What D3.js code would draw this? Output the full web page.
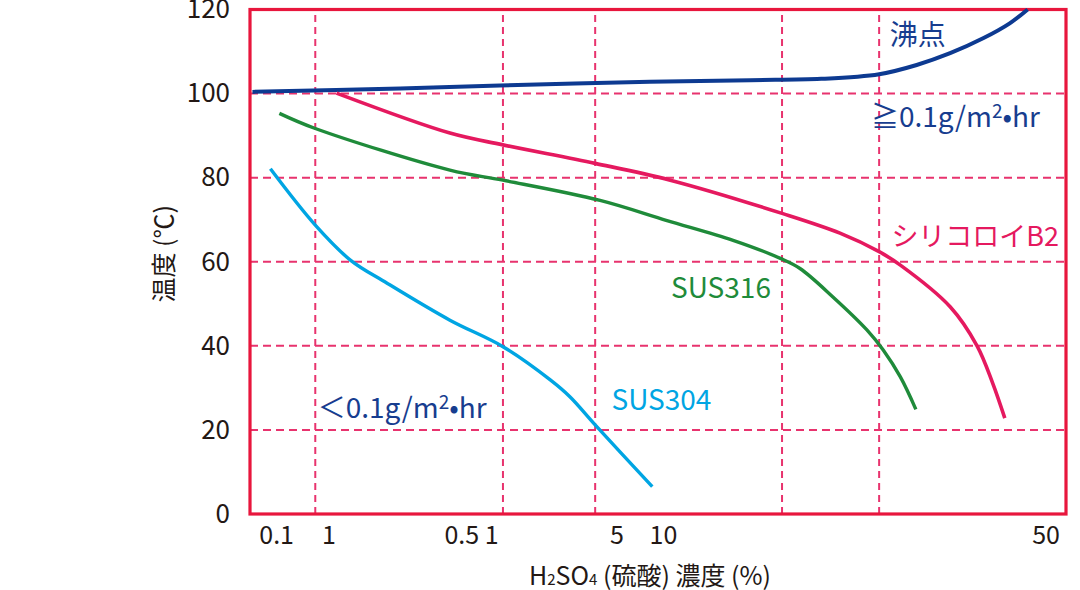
<!DOCTYPE html>
<html>
<head>
<meta charset="utf-8">
<script src="https://cdn.jsdelivr.net/npm/d3@7"></script>
<style>
  html, body { margin: 0; padding: 0; background: #fff; }
  #chart { width: 1080px; height: 590px; }
  text { font-family: "Noto Sans CJK JP", "Noto Sans", sans-serif; }
</style>
</head>
<body>
<div id="chart"></div>
<script>
// x is a relative position along the concentration axis (0..100 across the plot)
var yTicks = [0, 20, 40, 60, 80, 100, 120];
var gridX = [8.0, 31.0, 42.3, 65.2, 77.1];
var gridY = [20, 40, 60, 80, 100];
var xTickPos = [3.2, 9.6, 30.4, 44.9, 50.6, 97.5];
var xTickLabels = ["0.1", "1", "0.5 1", "5", "10", "50"];

var boilX = [0.3, 18.4, 30.6, 49.0, 61.3, 70.0, 77.1, 81.7, 85.8, 89.9, 93.1, 95.3];
var boilY = [100.4, 101.2, 101.9, 102.8, 103.2, 103.5, 104.6, 106.8, 109.6, 113.2, 116.7, 120];

var b2X = [10.6, 24.5, 31.0, 42.3, 51.5, 65.2, 72.3, 77.1, 79.7, 85.8, 89.1, 91.0, 92.5];
var b2Y = [100.1, 90.6, 87.8, 83.4, 79.4, 71.5, 66.8, 62.4, 59.2, 49.3, 40.0, 31.2, 22.8];

var sus316X = [3.6, 8.0, 24.5, 31.0, 42.9, 51.1, 59.2, 65.0, 67.4, 71.4, 75.6, 77.6, 79.7, 81.6];
var sus316Y = [95.3, 91.7, 81.8, 79.4, 74.6, 69.8, 65.1, 60.8, 58.4, 51.7, 43.8, 39.0, 32.6, 24.9];

var sus304X = [2.5, 8.0, 12.3, 16.8, 24.5, 31.0, 36.8, 39.2, 42.3, 49.3];
var sus304Y = [82.1, 68.7, 60.4, 54.9, 46.1, 39.8, 31.9, 27.9, 21.2, 6.5];

var noteText = ["沸点", "≧0.1g/m2•hr", "シリコロイB2", "SUS316", "SUS304", "＜0.1g/m2•hr"];
var noteX = [78.4, 76.1, 78.6, 51.6, 44.3, 8.3];
var noteY = [111.6, 92.1, 63.7, 51.4, 24.7, 22.8];

function CorrosionChart() {
    var self = this;

    self.initialize = function (conf) {
        self.el = document.getElementById(conf.el);
        self.margin = { top: 9.5, right: 14, bottom: 76, left: 250 };
        self.graphWidth = 1080;
        self.graphHeight = 590;
        self.width = self.graphWidth - self.margin.left - self.margin.right;
        self.height = self.graphHeight - self.margin.top - self.margin.bottom;

        self.xScale = d3.scaleLinear().domain([0, 100]).range([0, self.width]);
        self.yScale = d3.scaleLinear().domain([0, 120]).range([self.height, 0]);

        self.series = [
            { x: boilX, y: boilY, color: "#0d3a91", width: 4 },
            { x: b2X, y: b2Y, color: "#e5195f", width: 3.6 },
            { x: sus316X, y: sus316Y, color: "#1f8b3a", width: 3.4 },
            { x: sus304X, y: sus304Y, color: "#00a5e3", width: 3.4 }
        ];
        self.noteColor = ["#173d8f", "#173d8f", "#e5195f", "#1f8b3a", "#00a5e3", "#173d8f"];
        self.noteSize = [28, 28, 27, 28, 28, 28];
        self.render();
    }

    self.render = function () {
        self.svg = d3.select(self.el).append("svg")
            .attr("width", self.graphWidth)
            .attr("height", self.graphHeight)
            .append("g")
            .attr("transform", "translate(" + self.margin.left + "," + self.margin.top + ")");
        self.renderGrid();
        self.renderAxes();
        self.renderLines();
        self.renderNotes();
    }

    self.renderGrid = function () {
        self.svg.selectAll(".grid-x")
            .data(gridX)
            .enter().append("line")
            .attr("class", "grid-x")
            .attr("x1", function (d) { return self.xScale(d); })
            .attr("x2", function (d) { return self.xScale(d); })
            .attr("y1", self.height).attr("y2", 0)
            .attr("stroke", "#e8336e").attr("stroke-width", 2)
            .attr("stroke-dasharray", "7,5");

        self.svg.selectAll(".grid-y")
            .data(gridY)
            .enter().append("line")
            .attr("class", "grid-y")
            .attr("x1", 0).attr("x2", self.width)
            .attr("y1", function (d) { return self.yScale(d); })
            .attr("y2", function (d) { return self.yScale(d); })
            .attr("stroke", "#e8336e").attr("stroke-width", 2)
            .attr("stroke-dasharray", "8,5");

        /*  frame  */
        self.svg.append("rect")
            .attr("x", 0).attr("y", 0)
            .attr("width", self.width).attr("height", self.height)
            .attr("fill", "none")
            .attr("stroke", "#e8163d").attr("stroke-width", 3.2);
    }

    self.renderAxes = function () {
        var xAxis = self.svg.append("g")
            .attr("transform", "translate(0," + self.height + ")")
            .call(d3.axisBottom(self.xScale)
                .tickValues(xTickPos)
                .tickFormat(function (d, i) { return xTickLabels[i]; })
                .tickSize(0).tickPadding(12));
        xAxis.select(".domain").remove();
        xAxis.selectAll(".tick text")
            .style("font-size", "25px").attr("fill", "#231815");
        xAxis.selectAll(".tick text")
            .filter(function (d, i) { return i === 2; })
            .attr("text-anchor", "end");

        var yAxis = self.svg.append("g")
            .call(d3.axisLeft(self.yScale)
                .tickValues(yTicks)
                .tickSize(0).tickPadding(20));
        yAxis.select(".domain").remove();
        yAxis.selectAll(".tick text")
            .style("font-size", "26px").attr("fill", "#231815");

        /*  axis titles  */
        var xt = self.svg.append("text")
            .attr("x", 400).attr("y", 575)
            .attr("text-anchor", "middle")
            .attr("fill", "#231815")
            .style("font-size", "25px");
        xt.append("tspan").text("H");
        xt.append("tspan").style("font-size", "15px").text("2");
        xt.append("tspan").text("SO");
        xt.append("tspan").style("font-size", "15px").text("4");
        xt.append("tspan").text(" (硫酸) 濃度 (%)");

        self.svg.append("text")
            .attr("transform", "translate(-77," + (self.height / 2 - 8) + ") rotate(-90)")
            .attr("text-anchor", "middle")
            .attr("fill", "#231815")
            .style("font-size", "25px")
            .text("温度 (℃)");
    }

    self.renderLines = function () {
        var line = d3.line()
            .x(function (d) { return self.xScale(d[0]); })
            .y(function (d) { return self.yScale(d[1]); })
            .curve(d3.curveCatmullRom.alpha(0.5));

        self.svg.selectAll(".curve")
            .data(self.series)
            .enter().append("path")
            .attr("class", "curve")
            .attr("d", function (s) { return line(d3.zip(s.x, s.y)); })
            .attr("fill", "none")
            .attr("stroke", function (s) { return s.color; })
            .attr("stroke-width", function (s) { return s.width; })
            .attr("stroke-linecap", "butt");
    }

    self.renderNotes = function () {
        noteText.forEach(function (t, i) {
            var txt = self.svg.append("text")
                .attr("x", self.xScale(noteX[i]))
                .attr("y", self.yScale(noteY[i]))
                .attr("fill", self.noteColor[i])
                .style("font-size", self.noteSize[i] + "px");
            var k = t.indexOf("m2");
            if (k < 0) {
                txt.text(t);
            } else {
                /*  raise the 2 of m2  */
                txt.append("tspan").text(t.slice(0, k + 1));
                txt.append("tspan").attr("dy", -9).style("font-size", "19px").text("2");
                txt.append("tspan").attr("dy", 9).text(t.slice(k + 2));
            }
        });
    }
}

var chart = new CorrosionChart();
chart.initialize({ el: "chart" });
</script>
</body>
</html>
